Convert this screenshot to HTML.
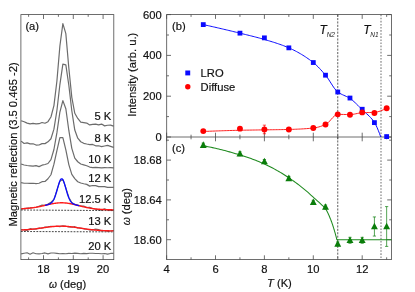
<!DOCTYPE html>
<html lang="en"><head><meta charset="utf-8"><title>Figure</title><style>html,body{margin:0;padding:0;background:#fff;}svg{display:block;will-change:transform;}text{stroke:#111;stroke-width:0.18px;}</style></head><body>
<svg width="415" height="292" viewBox="0 0 415 292" font-family="Liberation Sans, Arial, sans-serif">
<rect width="415" height="292" fill="#ffffff"/>
<polyline points="21.15,120.72 24.13,121.72 27.11,123.08 30.09,123.82 33.07,123.45 36.05,123.85 39.03,123.69 42.01,122.48 44.99,123.26 47.97,121.68 50.95,117.01 53.93,105.61 56.91,80.98 59.89,45.98 62.87,23.56 65.85,33.69 68.83,67.98 71.81,97.33 74.79,113.24 77.77,118.43 80.75,122.20 83.73,122.57 86.71,123.11 89.69,124.96 92.67,124.41 95.65,124.06 98.63,124.84 101.61,124.08 104.59,125.88 107.57,125.25 110.55,125.17 113.53,126.16" fill="none" stroke="#6c6c6c" stroke-width="1.2" stroke-linejoin="round" />
<polyline points="21.15,141.10 24.13,143.50 27.11,142.88 30.09,143.91 33.07,143.74 36.05,145.03 39.03,145.01 42.01,143.63 44.99,143.62 47.97,141.81 50.95,138.71 53.93,129.13 56.91,110.53 59.89,84.54 62.87,64.18 65.85,64.84 68.83,85.24 71.81,110.73 74.79,130.05 77.77,138.19 80.75,141.74 83.73,143.34 86.71,144.02 89.69,144.55 92.67,144.46 95.65,145.79 98.63,145.77 101.61,146.62 104.59,146.01 107.57,145.38 110.55,146.40 113.53,147.41" fill="none" stroke="#6c6c6c" stroke-width="1.2" stroke-linejoin="round" />
<polyline points="21.15,164.05 24.13,165.03 27.11,165.49 30.09,165.81 33.07,166.19 36.05,165.58 39.03,166.59 42.01,165.17 44.99,164.50 47.97,163.50 50.95,159.60 53.93,149.50 56.91,132.67 59.89,112.03 62.87,100.66 65.85,108.75 68.83,130.47 71.81,148.37 74.79,158.07 77.77,161.75 80.75,164.00 83.73,164.86 86.71,165.73 89.69,167.07 92.67,167.59 95.65,167.46 98.63,167.63 101.61,167.88 104.59,167.67 107.57,167.75 110.55,167.55 113.53,167.94" fill="none" stroke="#6c6c6c" stroke-width="1.2" stroke-linejoin="round" />
<polyline points="21.15,182.68 24.13,183.24 27.11,183.27 30.09,183.45 33.07,183.25 36.05,183.66 39.03,183.26 42.01,181.68 44.99,181.52 47.97,178.74 50.95,174.75 53.93,164.19 56.91,150.56 59.89,137.56 62.87,137.52 65.85,149.77 68.83,164.62 71.81,174.38 74.79,178.59 77.77,181.73 80.75,183.03 83.73,183.75 86.71,184.36 89.69,186.12 92.67,185.49 95.65,185.61 98.63,186.63 101.61,186.61 104.59,186.71 107.57,187.31 110.55,187.32 113.53,187.40" fill="none" stroke="#6c6c6c" stroke-width="1.2" stroke-linejoin="round" />
<polyline points="21.15,209.19 24.13,208.71 27.11,208.06 30.09,207.91 33.07,207.46 36.05,207.36 39.03,206.16 42.01,205.14 44.99,205.41 47.97,203.90 50.95,202.17 53.93,199.38 56.91,190.21 59.89,181.18 62.87,179.51 65.85,187.90 68.83,197.27 71.81,202.47 74.79,204.35 77.77,204.98 80.75,206.01 83.73,206.11 86.71,207.53 89.69,207.19 92.67,208.46 95.65,209.27 98.63,209.76 101.61,210.29 104.59,208.81 107.57,210.08 110.55,210.39 113.53,210.34" fill="none" stroke="#6c6c6c" stroke-width="1.1" stroke-linejoin="round" />
<line x1="20.90" y1="210.00" x2="113.80" y2="210.60" stroke="#222" stroke-width="0.85" stroke-dasharray="1.8,1.3"/>
<polyline points="21.15,208.70 21.62,208.69 22.08,208.67 22.55,208.65 23.01,208.63 23.48,208.60 23.94,208.58 24.41,208.55 24.88,208.53 25.34,208.50 25.81,208.47 26.27,208.43 26.74,208.40 27.20,208.36 27.67,208.33 28.14,208.28 28.60,208.24 29.07,208.20 29.53,208.15 30.00,208.10 30.46,208.05 30.93,208.00 31.40,207.94 31.86,207.88 32.33,207.82 32.79,207.76 33.26,207.70 33.72,207.63 34.19,207.56 34.66,207.49 35.12,207.41 35.59,207.33 36.05,207.26 36.52,207.17 36.98,207.09 37.45,207.00 37.92,206.92 38.38,206.83 38.85,206.73 39.31,206.64 39.78,206.54 40.24,206.45 40.71,206.35 41.18,206.25 41.64,206.14 42.11,206.04 42.57,205.93 43.04,205.83 43.50,205.72 43.97,205.61 44.44,205.50 44.90,205.40 45.37,205.29 45.83,205.18 46.30,205.07 46.76,204.96 47.23,204.85 47.70,204.74 48.16,204.64 48.63,204.53 49.09,204.43 49.56,204.32 50.02,204.22 50.49,204.12 50.96,204.03 51.42,203.93 51.89,203.84 52.35,203.75 52.82,203.66 53.28,203.58 53.75,203.50 54.22,203.42 54.68,203.35 55.15,203.28 55.61,203.21 56.08,203.15 56.54,203.10 57.01,203.05 57.48,203.00 57.94,202.96 58.41,202.92 58.87,202.88 59.34,202.86 59.80,202.83 60.27,202.82 60.74,202.80 61.20,202.80 61.67,202.80 62.13,202.80 62.60,202.81 63.06,202.82 63.53,202.84 64.00,202.87 64.46,202.90 64.93,202.93 65.39,202.97 65.86,203.02 66.32,203.07 66.79,203.12 67.26,203.18 67.72,203.25 68.19,203.32 68.65,203.39 69.12,203.47 69.58,203.55 70.05,203.63 70.52,203.72 70.98,203.81 71.45,203.90 71.91,204.00 72.38,204.10 72.84,204.21 73.31,204.31 73.78,204.42 74.24,204.53 74.71,204.64 75.17,204.75 75.64,204.87 76.10,204.98 76.57,205.10 77.04,205.22 77.50,205.34 77.97,205.45 78.43,205.57 78.90,205.69 79.36,205.81 79.83,205.93 80.30,206.04 80.76,206.16 81.23,206.27 81.69,206.39 82.16,206.50 82.62,206.61 83.09,206.72 83.56,206.83 84.02,206.94 84.49,207.05 84.95,207.15 85.42,207.25 85.88,207.35 86.35,207.45 86.82,207.55 87.28,207.64 87.75,207.73 88.21,207.82 88.68,207.91 89.14,207.99 89.61,208.07 90.08,208.15 90.54,208.23 91.01,208.31 91.47,208.38 91.94,208.45 92.40,208.52 92.87,208.58 93.34,208.65 93.80,208.71 94.27,208.76 94.73,208.82 95.20,208.88 95.66,208.93 96.13,208.98 96.60,209.03 97.06,209.07 97.53,209.12 97.99,209.16 98.46,209.20 98.93,209.24 99.39,209.27 99.86,209.31 100.32,209.34 100.79,209.38 101.25,209.41 101.72,209.44 102.19,209.46 102.65,209.49 103.12,209.52 103.58,209.54 104.05,209.56 104.51,209.58 104.98,209.61 105.45,209.63 105.91,209.64 106.38,209.66 106.84,209.68 107.31,209.70 107.77,209.71 108.24,209.73 108.71,209.74 109.17,209.75 109.64,209.77 110.10,209.78 110.57,209.79 111.03,209.80 111.50,209.81 111.97,209.82 112.43,209.83 112.90,209.84 113.36,209.85 113.83,209.86" fill="none" stroke="#ff1a1a" stroke-width="1.4" stroke-linejoin="round" />
<polyline points="44.99,205.37 45.28,205.30 45.57,205.23 45.85,205.15 46.14,205.08 46.43,205.01 46.72,204.93 47.01,204.85 47.29,204.77 47.58,204.69 47.87,204.60 48.16,204.51 48.45,204.41 48.73,204.31 49.02,204.20 49.31,204.08 49.60,203.95 49.89,203.81 50.17,203.65 50.46,203.48 50.75,203.29 51.04,203.08 51.33,202.85 51.61,202.58 51.90,202.29 52.19,201.97 52.48,201.62 52.77,201.22 53.05,200.79 53.34,200.31 53.63,199.79 53.92,199.22 54.21,198.60 54.49,197.93 54.78,197.21 55.07,196.45 55.36,195.63 55.65,194.77 55.93,193.87 56.22,192.93 56.51,191.96 56.80,190.96 57.09,189.94 57.37,188.91 57.66,187.88 57.95,186.86 58.24,185.85 58.53,184.87 58.81,183.93 59.10,183.04 59.39,182.21 59.68,181.45 59.97,180.77 60.25,180.18 60.54,179.68 60.83,179.29 61.12,179.01 61.41,178.85 61.69,178.80 61.98,178.86 62.27,179.04 62.56,179.33 62.84,179.74 63.13,180.24 63.42,180.84 63.71,181.53 64.00,182.30 64.28,183.14 64.57,184.04 64.86,184.99 65.15,185.97 65.44,186.98 65.72,188.01 66.01,189.05 66.30,190.08 66.59,191.09 66.88,192.09 67.16,193.06 67.45,194.00 67.74,194.90 68.03,195.76 68.32,196.57 68.60,197.33 68.89,198.05 69.18,198.71 69.47,199.33 69.76,199.90 70.04,200.42 70.33,200.89 70.62,201.33 70.91,201.72 71.20,202.08 71.48,202.40 71.77,202.69 72.06,202.95 72.35,203.19 72.64,203.40 72.92,203.59 73.21,203.76 73.50,203.92 73.79,204.07 74.08,204.20 74.36,204.32 74.65,204.44 74.94,204.54 75.23,204.64 75.52,204.74 75.80,204.83 76.09,204.92 76.38,205.00 76.67,205.09 76.96,205.17 77.24,205.25 77.53,205.33 77.82,205.40 78.11,205.48 78.40,205.55 78.68,205.63 78.97,205.70 79.26,205.78" fill="none" stroke="#0a0aff" stroke-width="1.3" stroke-linejoin="round" />
<polyline points="21.15,229.51 24.13,230.04 27.11,230.56 30.09,228.64 33.07,229.32 36.05,229.29 39.03,228.00 42.01,228.23 44.99,226.98 47.97,226.71 50.95,226.35 53.93,226.56 56.91,226.22 59.89,226.64 62.87,225.72 65.85,226.25 68.83,227.04 71.81,227.17 74.79,226.63 77.77,228.06 80.75,227.95 83.73,228.83 86.71,229.22 89.69,230.06 92.67,229.85 95.65,229.15 98.63,229.63 101.61,230.87 104.59,230.52 107.57,231.33 110.55,230.99 113.53,230.54" fill="none" stroke="#6c6c6c" stroke-width="1.1" stroke-linejoin="round" />
<line x1="20.90" y1="231.50" x2="113.80" y2="231.90" stroke="#222" stroke-width="0.85" stroke-dasharray="1.8,1.3"/>
<polyline points="21.15,229.98 21.62,229.96 22.08,229.94 22.55,229.91 23.01,229.89 23.48,229.87 23.94,229.84 24.41,229.81 24.88,229.79 25.34,229.76 25.81,229.73 26.27,229.69 26.74,229.66 27.20,229.63 27.67,229.59 28.14,229.55 28.60,229.52 29.07,229.48 29.53,229.44 30.00,229.39 30.46,229.35 30.93,229.31 31.40,229.26 31.86,229.21 32.33,229.17 32.79,229.12 33.26,229.07 33.72,229.01 34.19,228.96 34.66,228.91 35.12,228.85 35.59,228.80 36.05,228.74 36.52,228.68 36.98,228.62 37.45,228.56 37.92,228.50 38.38,228.44 38.85,228.38 39.31,228.31 39.78,228.25 40.24,228.18 40.71,228.12 41.18,228.06 41.64,227.99 42.11,227.92 42.57,227.86 43.04,227.79 43.50,227.73 43.97,227.66 44.44,227.60 44.90,227.53 45.37,227.47 45.83,227.40 46.30,227.34 46.76,227.28 47.23,227.21 47.70,227.15 48.16,227.09 48.63,227.03 49.09,226.97 49.56,226.92 50.02,226.86 50.49,226.81 50.96,226.76 51.42,226.70 51.89,226.66 52.35,226.61 52.82,226.56 53.28,226.52 53.75,226.48 54.22,226.44 54.68,226.40 55.15,226.37 55.61,226.34 56.08,226.31 56.54,226.28 57.01,226.26 57.48,226.24 57.94,226.22 58.41,226.20 58.87,226.19 59.34,226.18 59.80,226.17 60.27,226.16 60.74,226.16 61.20,226.16 61.67,226.16 62.13,226.17 62.60,226.18 63.06,226.19 63.53,226.21 64.00,226.22 64.46,226.24 64.93,226.27 65.39,226.29 65.86,226.32 66.32,226.35 66.79,226.39 67.26,226.42 67.72,226.46 68.19,226.50 68.65,226.54 69.12,226.59 69.58,226.64 70.05,226.69 70.52,226.74 70.98,226.79 71.45,226.85 71.91,226.90 72.38,226.96 72.84,227.02 73.31,227.09 73.78,227.15 74.24,227.21 74.71,227.28 75.17,227.35 75.64,227.41 76.10,227.48 76.57,227.55 77.04,227.62 77.50,227.69 77.97,227.76 78.43,227.83 78.90,227.90 79.36,227.98 79.83,228.05 80.30,228.12 80.76,228.19 81.23,228.26 81.69,228.33 82.16,228.41 82.62,228.48 83.09,228.55 83.56,228.62 84.02,228.68 84.49,228.75 84.95,228.82 85.42,228.89 85.88,228.95 86.35,229.02 86.82,229.08 87.28,229.15 87.75,229.21 88.21,229.27 88.68,229.33 89.14,229.39 89.61,229.44 90.08,229.50 90.54,229.56 91.01,229.61 91.47,229.66 91.94,229.71 92.40,229.76 92.87,229.81 93.34,229.86 93.80,229.91 94.27,229.95 94.73,230.00 95.20,230.04 95.66,230.08 96.13,230.12 96.60,230.16 97.06,230.20 97.53,230.23 97.99,230.27 98.46,230.30 98.93,230.33 99.39,230.37 99.86,230.40 100.32,230.43 100.79,230.45 101.25,230.48 101.72,230.51 102.19,230.53 102.65,230.56 103.12,230.58 103.58,230.60 104.05,230.63 104.51,230.65 104.98,230.67 105.45,230.69 105.91,230.70 106.38,230.72 106.84,230.74 107.31,230.75 107.77,230.77 108.24,230.79 108.71,230.80 109.17,230.81 109.64,230.83 110.10,230.84 110.57,230.85 111.03,230.86 111.50,230.87 111.97,230.88 112.43,230.89 112.90,230.90 113.36,230.91 113.83,230.92" fill="none" stroke="#ff1a1a" stroke-width="1.4" stroke-linejoin="round" />
<polyline points="21.15,253.88 24.13,253.22 27.11,252.78 30.09,254.22 33.07,252.83 36.05,253.72 39.03,253.83 42.01,253.55 44.99,252.91 47.97,253.86 50.95,253.00 53.93,253.03 56.91,253.37 59.89,253.78 62.87,253.61 65.85,253.78 68.83,253.34 71.81,253.44 74.79,253.10 77.77,253.39 80.75,253.71 83.73,253.40 86.71,253.67 89.69,253.30 92.67,253.29 95.65,253.51 98.63,253.43 101.61,253.71 104.59,253.56 107.57,254.11 110.55,253.42 113.53,253.42" fill="none" stroke="#6c6c6c" stroke-width="1.1" stroke-linejoin="round" />
<rect x="20.9" y="14.6" width="92.90" height="245.00" fill="none" stroke="#4a4a4a" stroke-width="0.8"/>
<line x1="28.60" y1="259.60" x2="28.60" y2="257.40" stroke="#4a4a4a" stroke-width="0.8" />
<line x1="28.60" y1="14.60" x2="28.60" y2="16.80" stroke="#4a4a4a" stroke-width="0.8" />
<line x1="43.50" y1="259.60" x2="43.50" y2="255.20" stroke="#4a4a4a" stroke-width="0.8" />
<line x1="43.50" y1="14.60" x2="43.50" y2="19.00" stroke="#4a4a4a" stroke-width="0.8" />
<line x1="58.40" y1="259.60" x2="58.40" y2="257.40" stroke="#4a4a4a" stroke-width="0.8" />
<line x1="58.40" y1="14.60" x2="58.40" y2="16.80" stroke="#4a4a4a" stroke-width="0.8" />
<line x1="73.30" y1="259.60" x2="73.30" y2="255.20" stroke="#4a4a4a" stroke-width="0.8" />
<line x1="73.30" y1="14.60" x2="73.30" y2="19.00" stroke="#4a4a4a" stroke-width="0.8" />
<line x1="88.20" y1="259.60" x2="88.20" y2="257.40" stroke="#4a4a4a" stroke-width="0.8" />
<line x1="88.20" y1="14.60" x2="88.20" y2="16.80" stroke="#4a4a4a" stroke-width="0.8" />
<line x1="103.10" y1="259.60" x2="103.10" y2="255.20" stroke="#4a4a4a" stroke-width="0.8" />
<line x1="103.10" y1="14.60" x2="103.10" y2="19.00" stroke="#4a4a4a" stroke-width="0.8" />
<text x="43.50" y="273.40" font-size="11.2" text-anchor="middle" fill="#111" >18</text>
<text x="73.30" y="273.40" font-size="11.2" text-anchor="middle" fill="#111" >19</text>
<text x="103.10" y="273.40" font-size="11.2" text-anchor="middle" fill="#111" >20</text>
<text x="111.30" y="120.20" font-size="11.2" text-anchor="end" fill="#111" >5 K</text>
<text x="111.30" y="142.40" font-size="11.2" text-anchor="end" fill="#111" >8 K</text>
<text x="111.30" y="162.50" font-size="11.2" text-anchor="end" fill="#111" >10 K</text>
<text x="111.30" y="182.40" font-size="11.2" text-anchor="end" fill="#111" >12 K</text>
<text x="111.30" y="203.00" font-size="11.2" text-anchor="end" fill="#111" >12.5 K</text>
<text x="111.30" y="224.90" font-size="11.2" text-anchor="end" fill="#111" >13 K</text>
<text x="111.30" y="250.40" font-size="11.2" text-anchor="end" fill="#111" >20 K</text>
<text x="25.40" y="30.20" font-size="11.2" text-anchor="start" fill="#111" >(a)</text>
<text transform="translate(16.8,144.45) rotate(-90)" font-size="11.2" text-anchor="middle" fill="#111">Magnetic reflection (3.5 0.465 -2)</text>
<text x="67.6" y="287.9" font-size="11.2" text-anchor="middle" fill="#111"><tspan font-style="italic" font-size="10.2">ω</tspan> (deg)</text>
<line x1="337.75" y1="14.60" x2="337.75" y2="259.60" stroke="#1a1a1a" stroke-width="0.7" stroke-dasharray="2.1,1.3"/>
<line x1="381.00" y1="14.60" x2="381.00" y2="259.60" stroke="#b2b2b2" stroke-width="1.9" stroke-dasharray="1.6,1.5"/>
<rect x="166.7" y="14.6" width="224.80" height="245.00" fill="none" stroke="#4a4a4a" stroke-width="0.8"/>
<line x1="166.70" y1="137.00" x2="391.50" y2="137.00" stroke="#4a4a4a" stroke-width="0.8" />
<line x1="166.60" y1="14.60" x2="166.60" y2="18.90" stroke="#4a4a4a" stroke-width="0.8" />
<line x1="166.60" y1="132.70" x2="166.60" y2="141.30" stroke="#4a4a4a" stroke-width="0.8" />
<line x1="166.60" y1="259.60" x2="166.60" y2="255.30" stroke="#4a4a4a" stroke-width="0.8" />
<text x="166.60" y="273.00" font-size="11.2" text-anchor="middle" fill="#111" >4</text>
<line x1="191.05" y1="14.60" x2="191.05" y2="16.90" stroke="#4a4a4a" stroke-width="0.8" />
<line x1="191.05" y1="134.70" x2="191.05" y2="139.30" stroke="#4a4a4a" stroke-width="0.8" />
<line x1="191.05" y1="259.60" x2="191.05" y2="257.30" stroke="#4a4a4a" stroke-width="0.8" />
<line x1="215.50" y1="14.60" x2="215.50" y2="18.90" stroke="#4a4a4a" stroke-width="0.8" />
<line x1="215.50" y1="132.70" x2="215.50" y2="141.30" stroke="#4a4a4a" stroke-width="0.8" />
<line x1="215.50" y1="259.60" x2="215.50" y2="255.30" stroke="#4a4a4a" stroke-width="0.8" />
<text x="215.50" y="273.00" font-size="11.2" text-anchor="middle" fill="#111" >6</text>
<line x1="239.95" y1="14.60" x2="239.95" y2="16.90" stroke="#4a4a4a" stroke-width="0.8" />
<line x1="239.95" y1="134.70" x2="239.95" y2="139.30" stroke="#4a4a4a" stroke-width="0.8" />
<line x1="239.95" y1="259.60" x2="239.95" y2="257.30" stroke="#4a4a4a" stroke-width="0.8" />
<line x1="264.40" y1="14.60" x2="264.40" y2="18.90" stroke="#4a4a4a" stroke-width="0.8" />
<line x1="264.40" y1="132.70" x2="264.40" y2="141.30" stroke="#4a4a4a" stroke-width="0.8" />
<line x1="264.40" y1="259.60" x2="264.40" y2="255.30" stroke="#4a4a4a" stroke-width="0.8" />
<text x="264.40" y="273.00" font-size="11.2" text-anchor="middle" fill="#111" >8</text>
<line x1="288.85" y1="14.60" x2="288.85" y2="16.90" stroke="#4a4a4a" stroke-width="0.8" />
<line x1="288.85" y1="134.70" x2="288.85" y2="139.30" stroke="#4a4a4a" stroke-width="0.8" />
<line x1="288.85" y1="259.60" x2="288.85" y2="257.30" stroke="#4a4a4a" stroke-width="0.8" />
<line x1="313.30" y1="14.60" x2="313.30" y2="18.90" stroke="#4a4a4a" stroke-width="0.8" />
<line x1="313.30" y1="132.70" x2="313.30" y2="141.30" stroke="#4a4a4a" stroke-width="0.8" />
<line x1="313.30" y1="259.60" x2="313.30" y2="255.30" stroke="#4a4a4a" stroke-width="0.8" />
<text x="313.30" y="273.00" font-size="11.2" text-anchor="middle" fill="#111" >10</text>
<line x1="337.75" y1="14.60" x2="337.75" y2="16.90" stroke="#4a4a4a" stroke-width="0.8" />
<line x1="337.75" y1="134.70" x2="337.75" y2="139.30" stroke="#4a4a4a" stroke-width="0.8" />
<line x1="337.75" y1="259.60" x2="337.75" y2="257.30" stroke="#4a4a4a" stroke-width="0.8" />
<line x1="362.20" y1="14.60" x2="362.20" y2="18.90" stroke="#4a4a4a" stroke-width="0.8" />
<line x1="362.20" y1="132.70" x2="362.20" y2="141.30" stroke="#4a4a4a" stroke-width="0.8" />
<line x1="362.20" y1="259.60" x2="362.20" y2="255.30" stroke="#4a4a4a" stroke-width="0.8" />
<text x="362.20" y="273.00" font-size="11.2" text-anchor="middle" fill="#111" >12</text>
<line x1="386.65" y1="14.60" x2="386.65" y2="16.90" stroke="#4a4a4a" stroke-width="0.8" />
<line x1="386.65" y1="134.70" x2="386.65" y2="139.30" stroke="#4a4a4a" stroke-width="0.8" />
<line x1="386.65" y1="259.60" x2="386.65" y2="257.30" stroke="#4a4a4a" stroke-width="0.8" />
<line x1="166.70" y1="137.00" x2="171.00" y2="137.00" stroke="#4a4a4a" stroke-width="0.8" />
<line x1="391.50" y1="137.00" x2="387.20" y2="137.00" stroke="#4a4a4a" stroke-width="0.8" />
<text x="161.70" y="140.90" font-size="11.2" text-anchor="end" fill="#111" >0</text>
<line x1="166.70" y1="116.60" x2="169.00" y2="116.60" stroke="#4a4a4a" stroke-width="0.8" />
<line x1="391.50" y1="116.60" x2="389.20" y2="116.60" stroke="#4a4a4a" stroke-width="0.8" />
<line x1="166.70" y1="96.20" x2="171.00" y2="96.20" stroke="#4a4a4a" stroke-width="0.8" />
<line x1="391.50" y1="96.20" x2="387.20" y2="96.20" stroke="#4a4a4a" stroke-width="0.8" />
<text x="161.70" y="100.10" font-size="11.2" text-anchor="end" fill="#111" >200</text>
<line x1="166.70" y1="75.80" x2="169.00" y2="75.80" stroke="#4a4a4a" stroke-width="0.8" />
<line x1="391.50" y1="75.80" x2="389.20" y2="75.80" stroke="#4a4a4a" stroke-width="0.8" />
<line x1="166.70" y1="55.40" x2="171.00" y2="55.40" stroke="#4a4a4a" stroke-width="0.8" />
<line x1="391.50" y1="55.40" x2="387.20" y2="55.40" stroke="#4a4a4a" stroke-width="0.8" />
<text x="161.70" y="59.30" font-size="11.2" text-anchor="end" fill="#111" >400</text>
<line x1="166.70" y1="35.00" x2="169.00" y2="35.00" stroke="#4a4a4a" stroke-width="0.8" />
<line x1="391.50" y1="35.00" x2="389.20" y2="35.00" stroke="#4a4a4a" stroke-width="0.8" />
<line x1="166.70" y1="14.60" x2="171.00" y2="14.60" stroke="#4a4a4a" stroke-width="0.8" />
<line x1="391.50" y1="14.60" x2="387.20" y2="14.60" stroke="#4a4a4a" stroke-width="0.8" />
<text x="161.70" y="18.50" font-size="11.2" text-anchor="end" fill="#111" >600</text>
<line x1="166.70" y1="239.70" x2="171.00" y2="239.70" stroke="#4a4a4a" stroke-width="0.8" />
<line x1="391.50" y1="239.70" x2="387.20" y2="239.70" stroke="#4a4a4a" stroke-width="0.8" />
<text x="161.70" y="243.60" font-size="11.2" text-anchor="end" fill="#111" >18.60</text>
<line x1="166.70" y1="219.80" x2="169.00" y2="219.80" stroke="#4a4a4a" stroke-width="0.8" />
<line x1="391.50" y1="219.80" x2="389.20" y2="219.80" stroke="#4a4a4a" stroke-width="0.8" />
<line x1="166.70" y1="199.90" x2="171.00" y2="199.90" stroke="#4a4a4a" stroke-width="0.8" />
<line x1="391.50" y1="199.90" x2="387.20" y2="199.90" stroke="#4a4a4a" stroke-width="0.8" />
<text x="161.70" y="203.80" font-size="11.2" text-anchor="end" fill="#111" >18.64</text>
<line x1="166.70" y1="180.00" x2="169.00" y2="180.00" stroke="#4a4a4a" stroke-width="0.8" />
<line x1="391.50" y1="180.00" x2="389.20" y2="180.00" stroke="#4a4a4a" stroke-width="0.8" />
<line x1="166.70" y1="160.10" x2="171.00" y2="160.10" stroke="#4a4a4a" stroke-width="0.8" />
<line x1="391.50" y1="160.10" x2="387.20" y2="160.10" stroke="#4a4a4a" stroke-width="0.8" />
<text x="161.70" y="164.00" font-size="11.2" text-anchor="end" fill="#111" >18.68</text>
<line x1="166.70" y1="140.20" x2="169.00" y2="140.20" stroke="#4a4a4a" stroke-width="0.8" />
<line x1="391.50" y1="140.20" x2="389.20" y2="140.20" stroke="#4a4a4a" stroke-width="0.8" />
<text x="172.00" y="30.20" font-size="11.2" text-anchor="start" fill="#111" >(b)</text>
<text x="172.00" y="152.30" font-size="11.2" text-anchor="start" fill="#111" >(c)</text>
<rect x="185.3" y="70.5" width="4.9" height="4.9" fill="#0a0aff"/>
<circle cx="187.8" cy="86.7" r="2.7" fill="#ff0000"/>
<text x="200.60" y="76.50" font-size="11.2" text-anchor="start" fill="#111" >LRO</text>
<text x="200.60" y="90.70" font-size="11.2" text-anchor="start" fill="#111" >Diffuse</text>
<text x="319.6" y="34.0" font-size="12" fill="#111" font-style="italic">T<tspan font-size="6.5" dy="3.4" dx="-0.3" fill="#222" stroke="none">N2</tspan></text>
<text x="363.2" y="34.0" font-size="12" fill="#111" font-style="italic">T<tspan font-size="6.5" dy="3.4" dx="-0.3" fill="#222" stroke="none">N1</tspan></text>
<text transform="translate(136.0,74.7) rotate(-90)" font-size="11.2" text-anchor="middle" fill="#111">Intensity (arb. u.)</text>
<text transform="translate(130.2,206.7) rotate(-90)" font-size="11.2" text-anchor="middle" fill="#111"><tspan font-style="italic" font-size="10.2">ω</tspan> (deg)</text>
<text x="279.4" y="287.4" font-size="11.2" text-anchor="middle" fill="#111"><tspan font-style="italic">T</tspan> (K)</text>
<polyline points="203.27,24.60 204.55,24.88 205.83,25.16 207.11,25.44 208.38,25.72 209.66,26.01 210.94,26.30 212.21,26.59 213.49,26.88 214.77,27.17 216.05,27.46 217.32,27.76 218.60,28.05 219.88,28.35 221.15,28.65 222.43,28.94 223.71,29.25 224.98,29.55 226.26,29.85 227.54,30.15 228.82,30.46 230.09,30.77 231.37,31.07 232.65,31.38 233.92,31.69 235.20,32.00 236.48,32.31 237.75,32.62 239.03,32.94 240.31,33.25 241.59,33.57 242.86,33.88 244.14,34.19 245.42,34.50 246.69,34.82 247.97,35.13 249.25,35.45 250.53,35.76 251.80,36.08 253.08,36.41 254.36,36.73 255.63,37.07 256.91,37.40 258.19,37.74 259.46,38.09 260.74,38.44 262.02,38.80 263.30,39.17 264.57,39.54 265.85,39.92 267.13,40.29 268.40,40.67 269.68,41.06 270.96,41.44 272.23,41.84 273.51,42.23 274.79,42.64 276.07,43.05 277.34,43.48 278.62,43.91 279.90,44.35 281.17,44.81 282.45,45.28 283.73,45.76 285.00,46.26 286.28,46.77 287.56,47.30 288.84,47.85 290.11,48.41 291.39,49.00 292.67,49.61 293.94,50.23 295.22,50.88 296.50,51.55 297.78,52.24 299.05,52.96 300.33,53.69 301.61,54.45 302.88,55.24 304.16,56.04 305.44,56.87 306.71,57.73 307.99,58.61 309.27,59.51 310.55,60.44 311.82,61.40 313.10,62.38 314.38,63.42 315.65,64.54 316.93,65.74 318.21,67.01 319.48,68.34 320.76,69.72 322.04,71.15 323.32,72.61 324.59,74.09 325.87,75.60 327.15,77.29 328.42,79.15 329.70,81.12 330.98,83.14 332.25,85.14 333.53,87.05 334.81,88.81 336.09,90.35 337.36,91.60 338.64,92.56 339.92,93.37 341.19,94.07 342.47,94.70 343.75,95.27 345.03,95.83 346.30,96.41 347.58,97.03 348.86,97.74 350.13,98.55 351.41,99.48 352.69,100.51 353.96,101.61 355.24,102.79 356.52,104.01 357.80,105.27 359.07,106.55 360.35,107.83 361.63,109.10 362.90,110.34 364.18,111.52 365.46,112.66 366.73,113.80 368.01,114.97 369.29,116.20 370.57,117.52 371.84,118.97 373.12,120.58 374.40,122.37 375.67,124.55 376.95,127.22 378.23,130.26 379.50,133.56 380.78,137.00" fill="none" stroke="#0a0aff" stroke-width="1.0" stroke-linejoin="round" />
<polyline points="203.27,131.49 204.82,131.43 206.36,131.36 207.90,131.30 209.44,131.23 210.98,131.17 212.52,131.11 214.06,131.05 215.60,130.99 217.14,130.94 218.68,130.88 220.23,130.83 221.77,130.78 223.31,130.72 224.85,130.67 226.39,130.63 227.93,130.58 229.47,130.53 231.01,130.49 232.55,130.45 234.09,130.41 235.64,130.37 237.18,130.33 238.72,130.30 240.26,130.26 241.80,130.23 243.34,130.20 244.88,130.17 246.42,130.14 247.96,130.12 249.50,130.09 251.04,130.07 252.59,130.04 254.13,130.02 255.67,130.00 257.21,129.97 258.75,129.95 260.29,129.93 261.83,129.90 263.37,129.88 264.91,129.85 266.45,129.83 268.00,129.80 269.54,129.78 271.08,129.76 272.62,129.74 274.16,129.72 275.70,129.70 277.24,129.68 278.78,129.65 280.32,129.63 281.86,129.60 283.41,129.57 284.95,129.54 286.49,129.51 288.03,129.47 289.57,129.43 291.11,129.39 292.65,129.34 294.19,129.29 295.73,129.23 297.27,129.17 298.81,129.09 300.36,129.02 301.90,128.93 303.44,128.84 304.98,128.74 306.52,128.63 308.06,128.51 309.60,128.38 311.14,128.24 312.68,128.09 314.22,127.91 315.77,127.66 317.31,127.34 318.85,126.94 320.39,126.48 321.93,125.96 323.47,125.39 325.01,124.77 326.55,123.99 328.09,122.72 329.63,121.11 331.18,119.34 332.72,117.60 334.26,116.08 335.80,114.94 337.34,114.38 338.88,114.36 340.42,114.38 341.96,114.41 343.50,114.45 345.04,114.49 346.58,114.52 348.13,114.55 349.67,114.56 351.21,114.51 352.75,114.35 354.29,114.09 355.83,113.78 357.37,113.45 358.91,113.15 360.45,112.90 361.99,112.74 363.54,112.66 365.08,112.61 366.62,112.57 368.16,112.53 369.70,112.50 371.24,112.46 372.78,112.40 374.32,112.32 375.86,112.16 377.40,111.87 378.95,111.46 380.49,110.94 382.03,110.34 383.57,109.68 385.11,108.97 386.65,108.24" fill="none" stroke="#ff2020" stroke-width="1.0" stroke-linejoin="round" />
<line x1="264.40" y1="125.15" x2="264.40" y2="133.75" stroke="#ff0000" stroke-width="0.7" />
<line x1="262.80" y1="125.15" x2="266.00" y2="125.15" stroke="#ff0000" stroke-width="0.7" />
<line x1="262.80" y1="133.75" x2="266.00" y2="133.75" stroke="#ff0000" stroke-width="0.7" />
<rect x="200.87" y="22.20" width="4.8" height="4.8" fill="#0a0aff"/>
<rect x="237.55" y="30.76" width="4.8" height="4.8" fill="#0a0aff"/>
<rect x="262.00" y="35.46" width="4.8" height="4.8" fill="#0a0aff"/>
<rect x="286.45" y="45.45" width="4.8" height="4.8" fill="#0a0aff"/>
<rect x="310.90" y="60.14" width="4.8" height="4.8" fill="#0a0aff"/>
<rect x="323.12" y="72.79" width="4.8" height="4.8" fill="#0a0aff"/>
<rect x="335.35" y="89.62" width="4.8" height="4.8" fill="#0a0aff"/>
<rect x="347.58" y="95.64" width="4.8" height="4.8" fill="#0a0aff"/>
<rect x="359.80" y="106.86" width="4.8" height="4.8" fill="#0a0aff"/>
<rect x="372.02" y="120.22" width="4.8" height="4.8" fill="#0a0aff"/>
<rect x="384.25" y="134.19" width="4.8" height="4.8" fill="#0a0aff"/>
<circle cx="203.27" cy="131.08" r="2.95" fill="#ff0000"/>
<circle cx="239.95" cy="128.64" r="2.95" fill="#ff0000"/>
<circle cx="264.40" cy="129.45" r="2.95" fill="#ff0000"/>
<circle cx="288.85" cy="129.45" r="2.95" fill="#ff0000"/>
<circle cx="313.30" cy="128.02" r="2.95" fill="#ff0000"/>
<circle cx="325.52" cy="124.56" r="2.95" fill="#ff0000"/>
<circle cx="337.75" cy="114.36" r="2.95" fill="#ff0000"/>
<circle cx="349.98" cy="114.76" r="2.95" fill="#ff0000"/>
<circle cx="362.20" cy="112.42" r="2.95" fill="#ff0000"/>
<circle cx="374.42" cy="112.93" r="2.95" fill="#ff0000"/>
<circle cx="386.65" cy="108.24" r="2.95" fill="#ff0000"/>
<polyline points="203.30,145.80 204.84,146.08 206.38,146.36 207.92,146.66 209.46,146.97 211.00,147.29 212.54,147.63 214.08,147.97 215.62,148.32 217.16,148.68 218.71,149.05 220.25,149.43 221.79,149.82 223.33,150.21 224.87,150.61 226.41,151.03 227.95,151.44 229.49,151.87 231.03,152.30 232.57,152.74 234.11,153.18 235.65,153.63 237.19,154.08 238.73,154.54 240.27,155.00 241.81,155.48 243.35,155.97 244.89,156.47 246.43,156.99 247.97,157.51 249.52,158.06 251.06,158.61 252.60,159.18 254.14,159.76 255.68,160.36 257.22,160.97 258.76,161.59 260.30,162.23 261.84,162.88 263.38,163.54 264.92,164.22 266.46,164.93 268.00,165.67 269.54,166.44 271.08,167.23 272.62,168.05 274.16,168.89 275.70,169.74 277.24,170.61 278.78,171.50 280.33,172.39 281.87,173.31 283.41,174.27 284.95,175.26 286.49,176.27 288.03,177.29 289.57,178.31 291.11,179.35 292.65,180.41 294.19,181.50 295.73,182.61 297.27,183.75 298.81,184.92 300.35,186.12 301.89,187.34 303.43,188.58 304.97,189.85 306.51,191.15 308.05,192.47 309.59,193.85 311.14,195.27 312.68,196.69 314.22,198.07 315.76,199.44 317.30,200.82 318.84,202.20 320.38,203.62 321.92,205.03 323.46,206.39 325.00,208.05 325.00,208.05 325.20,208.30 325.40,208.57 325.61,208.86 325.81,209.16 326.01,209.47 326.21,209.80 326.41,210.15 326.61,210.50 326.82,210.87 327.02,211.25 327.22,211.64 327.42,212.04 327.62,212.45 327.82,212.86 328.03,213.29 328.23,213.73 328.43,214.17 328.63,214.63 328.83,215.08 329.03,215.55 329.24,216.02 329.44,216.49 329.64,216.97 329.84,217.46 330.04,217.94 330.24,218.43 330.45,218.92 330.65,219.42 330.85,219.92 331.05,220.44 331.25,220.97 331.45,221.52 331.66,222.07 331.86,222.64 332.06,223.22 332.26,223.81 332.46,224.42 332.66,225.03 332.87,225.65 333.07,226.27 333.27,226.91 333.47,227.55 333.67,228.20 333.87,228.86 334.08,229.52 334.28,230.19 334.48,230.86 334.68,231.54 334.88,232.22 335.08,232.92 335.29,233.64 335.49,234.37 335.69,235.12 335.89,235.87 336.09,236.64 336.29,237.42 336.50,238.21 336.70,239.00 336.90,239.80 391.50,239.80" fill="none" stroke="#1f8a1f" stroke-width="1.05" stroke-linejoin="round" />
<line x1="203.27" y1="143.11" x2="203.27" y2="147.09" stroke="#0a7d0a" stroke-width="0.7" />
<line x1="201.67" y1="143.11" x2="204.87" y2="143.11" stroke="#0a7d0a" stroke-width="0.7" />
<line x1="201.67" y1="147.09" x2="204.87" y2="147.09" stroke="#0a7d0a" stroke-width="0.7" />
<polygon points="203.27,141.30 199.82,147.90 206.72,147.90" fill="#0a7d0a"/>
<line x1="239.95" y1="151.81" x2="239.95" y2="155.79" stroke="#0a7d0a" stroke-width="0.7" />
<line x1="238.35" y1="151.81" x2="241.55" y2="151.81" stroke="#0a7d0a" stroke-width="0.7" />
<line x1="238.35" y1="155.79" x2="241.55" y2="155.79" stroke="#0a7d0a" stroke-width="0.7" />
<polygon points="239.95,150.00 236.50,156.60 243.40,156.60" fill="#0a7d0a"/>
<line x1="264.40" y1="159.51" x2="264.40" y2="163.49" stroke="#0a7d0a" stroke-width="0.7" />
<line x1="262.80" y1="159.51" x2="266.00" y2="159.51" stroke="#0a7d0a" stroke-width="0.7" />
<line x1="262.80" y1="163.49" x2="266.00" y2="163.49" stroke="#0a7d0a" stroke-width="0.7" />
<polygon points="264.40,157.70 260.95,164.30 267.85,164.30" fill="#0a7d0a"/>
<line x1="288.85" y1="176.41" x2="288.85" y2="180.39" stroke="#0a7d0a" stroke-width="0.7" />
<line x1="287.25" y1="176.41" x2="290.45" y2="176.41" stroke="#0a7d0a" stroke-width="0.7" />
<line x1="287.25" y1="180.39" x2="290.45" y2="180.39" stroke="#0a7d0a" stroke-width="0.7" />
<polygon points="288.85,174.60 285.40,181.20 292.30,181.20" fill="#0a7d0a"/>
<line x1="313.30" y1="200.31" x2="313.30" y2="204.29" stroke="#0a7d0a" stroke-width="0.7" />
<line x1="311.70" y1="200.31" x2="314.90" y2="200.31" stroke="#0a7d0a" stroke-width="0.7" />
<line x1="311.70" y1="204.29" x2="314.90" y2="204.29" stroke="#0a7d0a" stroke-width="0.7" />
<polygon points="313.30,198.50 309.85,205.10 316.75,205.10" fill="#0a7d0a"/>
<line x1="325.52" y1="205.01" x2="325.52" y2="208.99" stroke="#0a7d0a" stroke-width="0.7" />
<line x1="323.92" y1="205.01" x2="327.12" y2="205.01" stroke="#0a7d0a" stroke-width="0.7" />
<line x1="323.92" y1="208.99" x2="327.12" y2="208.99" stroke="#0a7d0a" stroke-width="0.7" />
<polygon points="325.52,203.20 322.07,209.80 328.97,209.80" fill="#0a7d0a"/>
<line x1="337.75" y1="241.91" x2="337.75" y2="245.89" stroke="#0a7d0a" stroke-width="0.7" />
<line x1="336.15" y1="241.91" x2="339.35" y2="241.91" stroke="#0a7d0a" stroke-width="0.7" />
<line x1="336.15" y1="245.89" x2="339.35" y2="245.89" stroke="#0a7d0a" stroke-width="0.7" />
<polygon points="337.75,240.10 334.30,246.70 341.20,246.70" fill="#0a7d0a"/>
<line x1="349.98" y1="237.32" x2="349.98" y2="243.29" stroke="#0a7d0a" stroke-width="0.7" />
<line x1="348.38" y1="237.32" x2="351.58" y2="237.32" stroke="#0a7d0a" stroke-width="0.7" />
<line x1="348.38" y1="243.29" x2="351.58" y2="243.29" stroke="#0a7d0a" stroke-width="0.7" />
<polygon points="349.98,236.50 346.53,243.10 353.43,243.10" fill="#0a7d0a"/>
<line x1="362.20" y1="237.32" x2="362.20" y2="243.29" stroke="#0a7d0a" stroke-width="0.7" />
<line x1="360.60" y1="237.32" x2="363.80" y2="237.32" stroke="#0a7d0a" stroke-width="0.7" />
<line x1="360.60" y1="243.29" x2="363.80" y2="243.29" stroke="#0a7d0a" stroke-width="0.7" />
<polygon points="362.20,236.50 358.75,243.10 365.65,243.10" fill="#0a7d0a"/>
<line x1="374.42" y1="216.95" x2="374.42" y2="236.05" stroke="#0a7d0a" stroke-width="0.7" />
<line x1="372.82" y1="216.95" x2="376.02" y2="216.95" stroke="#0a7d0a" stroke-width="0.7" />
<line x1="372.82" y1="236.05" x2="376.02" y2="236.05" stroke="#0a7d0a" stroke-width="0.7" />
<polygon points="374.42,222.70 370.97,229.30 377.87,229.30" fill="#0a7d0a"/>
<line x1="386.65" y1="206.60" x2="386.65" y2="246.40" stroke="#0a7d0a" stroke-width="0.7" />
<line x1="385.05" y1="206.60" x2="388.25" y2="206.60" stroke="#0a7d0a" stroke-width="0.7" />
<line x1="385.05" y1="246.40" x2="388.25" y2="246.40" stroke="#0a7d0a" stroke-width="0.7" />
<polygon points="386.65,222.70 383.20,229.30 390.10,229.30" fill="#0a7d0a"/>
</svg>
</body></html>
